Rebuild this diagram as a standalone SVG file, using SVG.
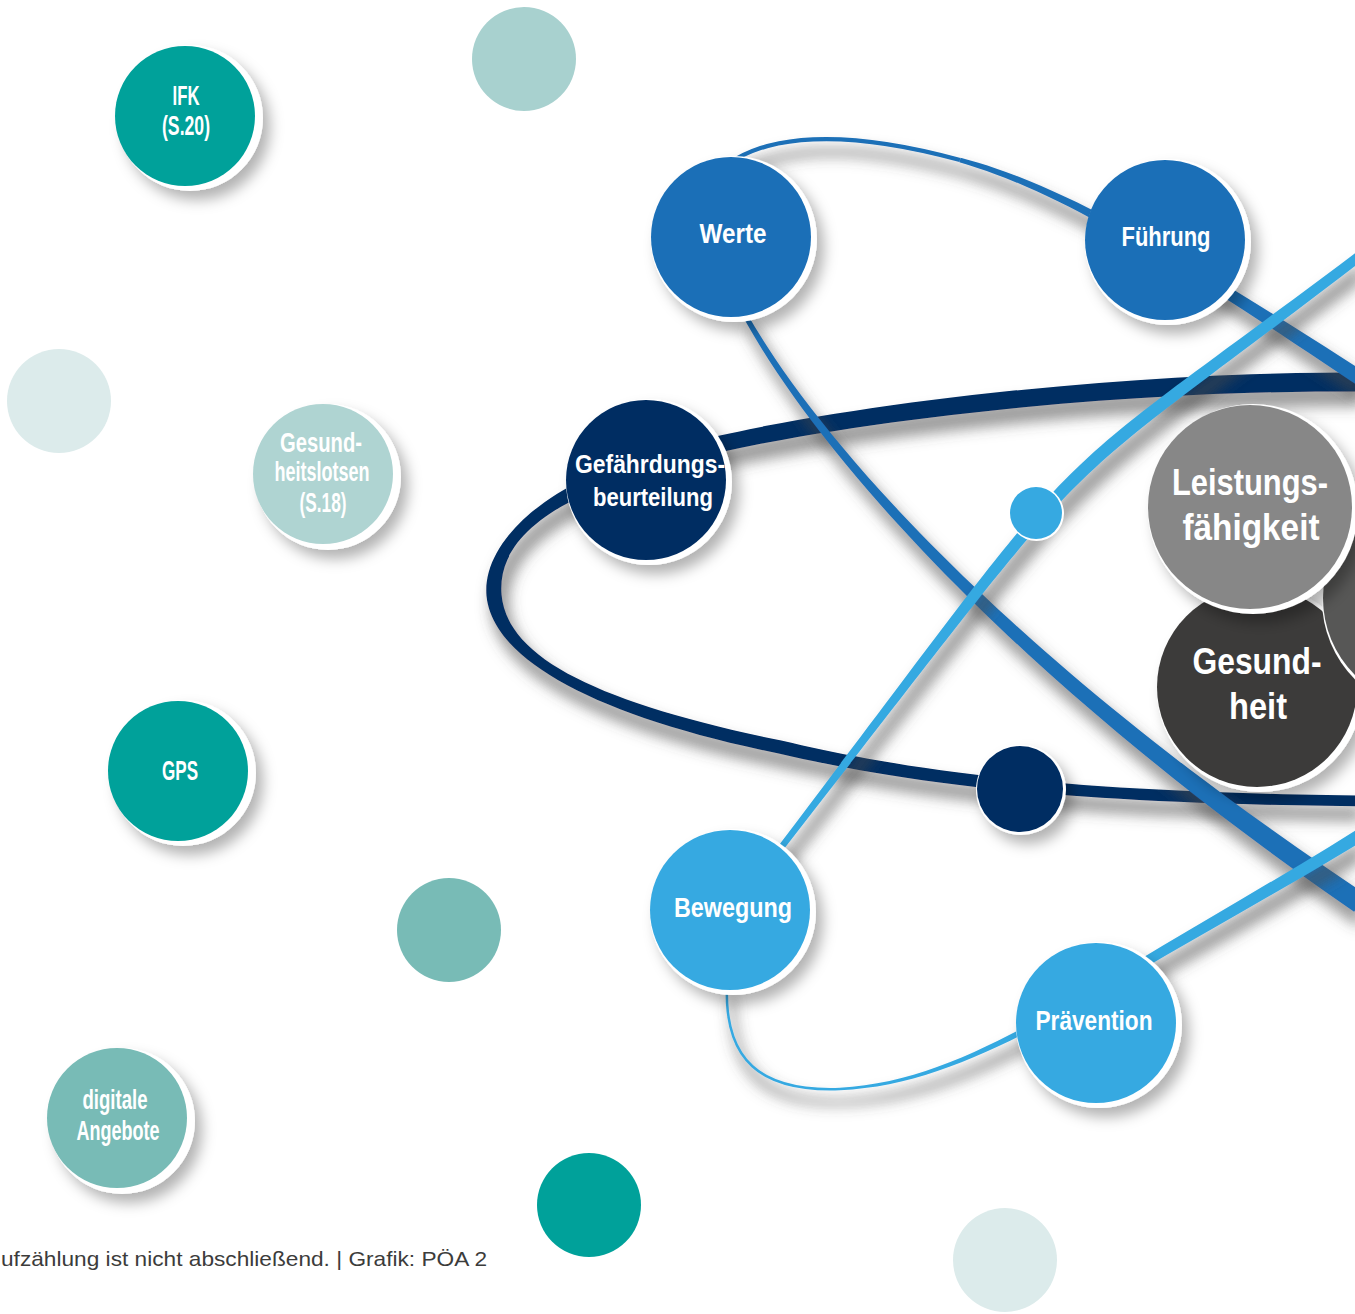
<svg xmlns="http://www.w3.org/2000/svg" width="1355" height="1314" viewBox="0 0 1355 1314">
<defs>
<filter id="lsh" filterUnits="userSpaceOnUse" x="0" y="0" width="1355" height="1314">
<feMorphology in="SourceAlpha" operator="dilate" radius="2" result="d"/>
<feGaussianBlur in="d" stdDeviation="7" result="b"/>
<feOffset in="b" dx="6" dy="13" result="o"/>
<feFlood flood-color="#4a4a4a" flood-opacity="0.55"/>
<feComposite in2="o" operator="in" result="s"/>
<feMerge><feMergeNode in="s"/><feMergeNode in="SourceGraphic"/></feMerge>
</filter>
<filter id="nsh" filterUnits="userSpaceOnUse" x="0" y="0" width="1355" height="1314">
<feGaussianBlur in="SourceAlpha" stdDeviation="7"/>
<feOffset dx="7" dy="9" result="o"/>
<feFlood flood-color="#000" flood-opacity="0.3"/>
<feComposite in2="o" operator="in" result="s"/>
<feMerge><feMergeNode in="s"/><feMergeNode in="SourceGraphic"/></feMerge>
</filter>
<style>
.t{font-family:"Liberation Sans Narrow","Liberation Sans","DejaVu Sans Condensed",sans-serif;font-weight:bold;fill:#fff;text-anchor:middle}
.s{font-size:28px}
.m{font-size:26px}
.l{font-size:37px}
.ring{fill:#fff;filter:url(#nsh)}
.teal{fill:#00a19a}
.lteal{fill:#afd4d2}
.mteal{fill:#78bbb6}
.pale{fill:#dcebeb}
.blue{fill:#1b6fb7}
.lblue{fill:#36a9e1}
.navy{fill:#002d62}
.cap{font-family:"Liberation Sans",Arial,sans-serif;font-size:21px;fill:#3c3c3b}
</style>
</defs>
<rect width="1355" height="1314" fill="#fff"/>

<g id="deco">
<circle cx="524" cy="59" r="52" fill="#a8d1cf"/>
<circle cx="59" cy="401" r="52" class="pale"/>
<circle cx="449" cy="930" r="52" class="mteal"/>
<circle cx="589" cy="1205" r="52" class="teal"/>
<circle cx="1005" cy="1260" r="52" class="pale"/>
</g>

<g id="connectors">
<path id="orbit-navy" class="navy" filter="url(#lsh)" d="M 1364.9 391.5 C 1099.9 389, 782.6 428.1, 642.4 472.6 C 542.4 504.4, 497.6 544.4, 501.5 594.4 C 507.2 659.3, 601.4 703.2, 781.3 740.6 C 901.4 769, 1050.1 792.2, 1365 795.7 L 1365 806.3 C 1049.9 803.8, 898.6 781, 778.7 753.4 C 598.6 716.8, 492.8 660.7, 486.5 595.7 C 482.4 545.6, 537.6 489.6, 637.6 457.4 C 777.4 411.9, 1100.1 371, 1365.1 372.5 Z"/>
<g id="orbit-blue" filter="url(#lsh)">
<path d="M 715 175 C 760 130, 850 130, 960 160" fill="none" stroke="#1b6fb7" stroke-width="4.2"/>
<path class="blue" d="M 960.6 157.8 C 1050.9 181.6, 1152.7 235.8, 1364.1 371.7 L 1355.9 384.3 C 1147.3 244.2, 1049.1 188.4, 959.4 162.2 Z"/>
</g>
<path id="orbit-blue-lower" class="blue" filter="url(#lsh)" d="M 747.2 313.8 C 823.5 448.1, 1018.9 664.2, 1365.9 894.3 L 1354.1 911.7 C 1011.1 675.8, 816.5 451.9, 742.8 316.2 Z"/>
<path id="orbit-lblue-upper" class="lblue" filter="url(#lsh)" d="M 767.6 860.2 C 1114.45 402.73, 1010.76 512.43, 1362 248 L 1368 256 C 1019.24 523.57, 1125.55 411.27, 772.4 863.8 Z"/>
<g id="orbit-lblue-lower" filter="url(#lsh)">
<path d="M 727 985 C 724 1060, 760 1092, 840 1089" fill="none" stroke="#36a9e1" stroke-width="2.5"/>
<path class="lblue" d="M 839.9 1087.75 C 924.9 1083.2, 998.6 1042.6, 1088.3 991.9 L 1091.7 998.1 C 1001.4 1047.4, 925.1 1086.8, 840.1 1090.25 Z"/>
<path class="lblue" d="M 1087.7 991.2 C 1177.4 935.7, 1276.9 880.1, 1361.6 826.5 L 1368.4 837.5 C 1283.1 889.9, 1182.6 944.3, 1092.3 998.8 Z"/>
</g>
</g>

<g id="node-ifk">
<circle class="ring" cx="190" cy="118" r="73"/>
<circle class="teal" cx="185" cy="116" r="70"/>
<text class="t s" x="186" y="105" textLength="27" lengthAdjust="spacingAndGlyphs">IFK</text>
<text class="t s" x="186" y="135" textLength="48" lengthAdjust="spacingAndGlyphs">(S.20)</text>
</g>
<g id="node-gesundheitslotsen">
<circle class="ring" cx="328" cy="477" r="73"/>
<circle class="lteal" cx="323" cy="474" r="70"/>
<text class="t s" x="321" y="452" textLength="82" lengthAdjust="spacingAndGlyphs">Gesund-</text>
<text class="t s" x="322" y="481" textLength="95" lengthAdjust="spacingAndGlyphs">heitslotsen</text>
<text class="t s" x="323" y="512" textLength="47" lengthAdjust="spacingAndGlyphs">(S.18)</text>
</g>
<g id="node-gps">
<circle class="ring" cx="183" cy="773" r="73"/>
<circle class="teal" cx="178" cy="771" r="70"/>
<text class="t s" x="180" y="780" textLength="36" lengthAdjust="spacingAndGlyphs">GPS</text>
</g>
<g id="node-digitale">
<circle class="ring" cx="122" cy="1121" r="73"/>
<circle class="mteal" cx="117" cy="1118" r="70"/>
<text class="t s" x="115" y="1109" textLength="65" lengthAdjust="spacingAndGlyphs">digitale</text>
<text class="t s" x="118" y="1140" textLength="83" lengthAdjust="spacingAndGlyphs">Angebote</text>
</g>

<g id="node-werte">
<circle class="ring" cx="734" cy="239" r="83"/>
<circle class="blue" cx="731" cy="237" r="80"/>
<text class="t s" x="733" y="243" textLength="67" lengthAdjust="spacingAndGlyphs">Werte</text>
</g>
<g id="node-fuehrung">
<circle class="ring" cx="1168" cy="242" r="83"/>
<circle class="blue" cx="1165" cy="240" r="80"/>
<text class="t s" x="1166" y="246" textLength="89" lengthAdjust="spacingAndGlyphs">Führung</text>
</g>
<g id="node-gefaehrdung">
<circle class="ring" cx="649" cy="482" r="83"/>
<circle class="navy" cx="646" cy="480" r="80"/>
<text class="t m" x="650" y="473" textLength="150" lengthAdjust="spacingAndGlyphs">Gefährdungs-</text>
<text class="t m" x="653" y="506" textLength="120" lengthAdjust="spacingAndGlyphs">beurteilung</text>
</g>
<g id="node-bewegung">
<circle class="ring" cx="733" cy="912" r="83"/>
<circle class="lblue" cx="730" cy="910" r="80"/>
<text class="t s" x="733" y="917" textLength="118" lengthAdjust="spacingAndGlyphs">Bewegung</text>
</g>
<g id="node-praevention">
<circle class="ring" cx="1099" cy="1025" r="83"/>
<circle class="lblue" cx="1096" cy="1023" r="80"/>
<text class="t s" x="1094" y="1030" textLength="117" lengthAdjust="spacingAndGlyphs">Prävention</text>
</g>
<g id="node-navy-dot">
<circle class="ring" cx="1021" cy="790" r="45"/>
<circle class="navy" cx="1020" cy="789" r="43"/>
</g>
<g id="node-lblue-dot">
<circle fill="#fff" cx="1036.5" cy="513.5" r="27.5"/>
<circle class="lblue" cx="1036" cy="513" r="26"/>
</g>

<g id="node-gesundheit">
<circle class="ring" cx="1260" cy="689" r="103"/>
<circle fill="#3c3b3a" cx="1257" cy="687" r="100"/>
<text class="t l" x="1257" y="674" textLength="129" lengthAdjust="spacingAndGlyphs">Gesund-</text>
<text class="t l" x="1258" y="719" textLength="58" lengthAdjust="spacingAndGlyphs">heit</text>
</g>
<g id="node-right">
<circle fill="#fff" cx="1434" cy="600" r="112"/>
<circle fill="#575756" cx="1432" cy="598" r="109"/>
</g>
<g id="node-leistung">
<circle class="ring" cx="1253" cy="509" r="105"/>
<circle fill="#878787" cx="1250" cy="507" r="102"/>
<text class="t l" x="1250" y="495" textLength="156" lengthAdjust="spacingAndGlyphs">Leistungs-</text>
<text class="t l" x="1251" y="540" textLength="137" lengthAdjust="spacingAndGlyphs">fähigkeit</text>
</g>

<text class="cap" x="1" y="1266" textLength="486" lengthAdjust="spacingAndGlyphs">ufzählung ist nicht abschließend. | Grafik: PÖA 2</text>
</svg>
